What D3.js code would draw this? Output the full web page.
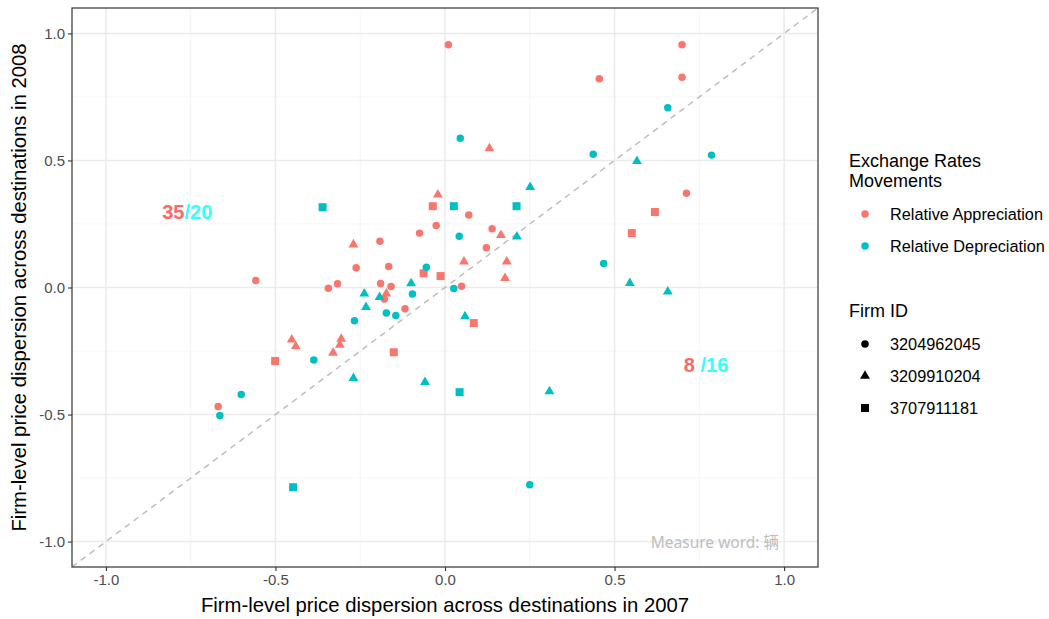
<!DOCTYPE html>
<html>
<head>
<meta charset="utf-8">
<script src="https://cdn.jsdelivr.net/npm/d3@7"></script>
<style>
  body { margin: 0; background: #fff; }
  svg { display: block; }
  text { font-family: "Liberation Sans", Arial, sans-serif; }
</style>
</head>
<body>
<svg id="chart" width="1049" height="619"></svg>
<script>
// ---- Data ----
const xTicks = [-1.0, -0.5, 0.0, 0.5, 1.0];
const yTicks = [-1.0, -0.5, 0.0, 0.5, 1.0];
const minorTicks = [-0.75, -0.25, 0.25, 0.75];
const movementLevels = ["Relative Appreciation", "Relative Depreciation"];
const firmLevels = ["3204962045", "3209910204", "3707911181"];

// Relative Appreciation: [x2007, y2008, firm index]
const appreciation = [
  [-0.270, 0.169, 1], [-0.192, 0.182, 0], [-0.262, 0.078, 0], [-0.166, 0.083, 0],
  [-0.558, 0.028, 0], [-0.344, -0.003, 0], [-0.317, 0.015, 0], [-0.190, 0.016, 0],
  [-0.159, 0.004, 0], [-0.173, -0.024, 1], [-0.179, -0.045, 0], [0.131, 0.547, 1],
  [-0.021, 0.365, 1], [-0.036, 0.320, 2], [0.070, 0.285, 0], [-0.075, 0.214, 0],
  [-0.026, 0.244, 0], [0.139, 0.231, 0], [0.165, 0.206, 1], [0.122, 0.156, 0],
  [0.056, 0.102, 1], [0.182, 0.102, 1], [0.177, 0.037, 1], [-0.063, 0.056, 2],
  [-0.013, 0.045, 2], [0.049, 0.005, 0], [-0.118, -0.084, 0], [-0.452, -0.205, 1],
  [-0.440, -0.232, 1], [-0.306, -0.202, 1], [-0.310, -0.226, 1], [-0.330, -0.257, 1],
  [-0.501, -0.289, 2], [-0.151, -0.255, 2], [-0.669, -0.468, 0], [0.085, -0.140, 2],
  [0.010, 0.955, 0], [0.455, 0.822, 0], [0.699, 0.955, 0], [0.699, 0.827, 0],
  [0.712, 0.371, 0], [0.619, 0.297, 2], [0.551, 0.214, 2]
];
// Relative Depreciation: [x2007, y2008, firm index]
const depreciation = [
  [-0.361, 0.316, 2], [-0.238, -0.024, 1], [-0.193, -0.038, 1], [-0.233, -0.077, 1],
  [0.045, 0.587, 0], [0.251, 0.395, 1], [0.026, 0.320, 2], [0.211, 0.320, 2],
  [0.042, 0.202, 0], [0.212, 0.200, 1], [-0.055, 0.080, 0], [-0.100, 0.016, 1],
  [-0.096, -0.026, 0], [0.026, -0.004, 0], [-0.173, -0.100, 0], [-0.145, -0.110, 0],
  [-0.267, -0.131, 0], [-0.387, -0.285, 0], [-0.270, -0.357, 1], [-0.059, -0.373, 1],
  [-0.601, -0.421, 0], [0.059, -0.114, 1], [0.043, -0.412, 2], [0.308, -0.409, 1],
  [0.657, 0.707, 0], [0.437, 0.524, 0], [0.786, 0.521, 0], [0.566, 0.497, 1],
  [0.468, 0.094, 0], [0.545, 0.017, 1], [0.657, -0.016, 1], [-0.664, -0.504, 0],
  [-0.448, -0.786, 2], [0.250, -0.776, 0]
];
const countLabels = [
  { x: -0.76, y: 0.30, above: "35", below: "/20" },
  { x: 0.77, y: -0.30, above: "8 ", below: "/16" }
];
const noteText = "Measure word: 辆";

// ---- Layout ----
const svg = d3.select("#chart");
const P = { left: 72, top: 8, right: 818, bottom: 567 };
const x = d3.scaleLinear().domain([-1.1, 1.1]).range([P.left, P.right]);
const y = d3.scaleLinear().domain([-1.1, 1.1]).range([P.bottom, P.top]);
const colour = d3.scaleOrdinal().domain(movementLevels).range(["#F8766D", "#00BFC4"]);
const shapeTypes = [d3.symbolCircle, d3.symbolTriangle, d3.symbolSquare];
const shapeSizes = [44, 42, 64];
const sym = i => d3.symbol().type(shapeTypes[i]).size(shapeSizes[i])();

// Panel background
svg.append("rect").attr("x", P.left).attr("y", P.top)
  .attr("width", P.right - P.left).attr("height", P.bottom - P.top).attr("fill", "#fff");

// Grid
const grid = svg.append("g");
grid.selectAll(".vmin").data(minorTicks).join("line")
  .attr("x1", d => x(d)).attr("x2", d => x(d)).attr("y1", P.top).attr("y2", P.bottom)
  .attr("stroke", "#F2F2F2").attr("stroke-width", 0.8);
grid.selectAll(".hmin").data(minorTicks).join("line")
  .attr("y1", d => y(d)).attr("y2", d => y(d)).attr("x1", P.left).attr("x2", P.right)
  .attr("stroke", "#F2F2F2").attr("stroke-width", 0.8);
grid.selectAll(".vmaj").data(xTicks).join("line")
  .attr("x1", d => x(d)).attr("x2", d => x(d)).attr("y1", P.top).attr("y2", P.bottom)
  .attr("stroke", "#EBEBEB").attr("stroke-width", 1.5);
grid.selectAll(".hmaj").data(yTicks).join("line")
  .attr("y1", d => y(d)).attr("y2", d => y(d)).attr("x1", P.left).attr("x2", P.right)
  .attr("stroke", "#EBEBEB").attr("stroke-width", 1.5);

// Clip
svg.append("clipPath").attr("id", "clip").append("rect")
  .attr("x", P.left).attr("y", P.top).attr("width", P.right - P.left).attr("height", P.bottom - P.top);

// Diagonal y = x
svg.append("line").attr("clip-path", "url(#clip)")
  .attr("x1", x(-1.1)).attr("y1", y(-1.1)).attr("x2", x(1.1)).attr("y2", y(1.1))
  .attr("stroke", "#BEBEBE").attr("stroke-width", 1.5).attr("stroke-dasharray", "6,5");

// Points
const pts = svg.append("g").attr("clip-path", "url(#clip)");
const allPts = appreciation.map(d => ({ x: d[0], y: d[1], f: d[2], m: movementLevels[0] }))
  .concat(depreciation.map(d => ({ x: d[0], y: d[1], f: d[2], m: movementLevels[1] })));
pts.selectAll("path").data(allPts).join("path")
  .attr("d", d => sym(d.f))
  .attr("transform", d => `translate(${x(d.x)},${y(d.y)})`)
  .attr("fill", d => colour(d.m));

// Count annotations
const ann = svg.append("g");
countLabels.forEach(c => {
  const t = ann.append("text").attr("x", x(c.x)).attr("y", y(c.y) + 8)
    .attr("text-anchor", "middle").attr("font-size", 20).attr("font-weight", "bold");
  t.append("tspan").attr("fill", "#FF6666").text(c.above);
  t.append("tspan").attr("fill", "#33FFFF").text(c.below);
});

// Measure word note
svg.append("text").attr("x", x(0.985)).attr("y", y(-1.0) + 6)
  .attr("text-anchor", "end").attr("font-size", 15.5).attr("fill", "#BDBDBD")
  .style("font-family", '"Noto Sans", "Noto Sans CJK SC", sans-serif')
  .text(noteText);

// Panel border
svg.append("rect").attr("x", P.left).attr("y", P.top)
  .attr("width", P.right - P.left).attr("height", P.bottom - P.top)
  .attr("fill", "none").attr("stroke", "#333333").attr("stroke-width", 1.2);

// Axes
const fmt = d3.format(".1f");
const xAxis = svg.append("g").attr("transform", `translate(0,${P.bottom})`)
  .call(d3.axisBottom(x).tickValues(xTicks).tickFormat(d => fmt(d).replace("−", "-")).tickSize(4).tickPadding(3));
const yAxis = svg.append("g").attr("transform", `translate(${P.left},0)`)
  .call(d3.axisLeft(y).tickValues(yTicks).tickFormat(d => fmt(d).replace("−", "-")).tickSize(4).tickPadding(3));
[xAxis, yAxis].forEach(a => {
  a.select(".domain").remove();
  a.selectAll(".tick line").attr("stroke", "#333333").attr("stroke-width", 1.1);
  a.selectAll(".tick text").attr("fill", "#4D4D4D").attr("font-size", 15)
    .style("font-family", '"Liberation Sans", Arial, sans-serif');
});

// Axis titles
svg.append("text").attr("x", (P.left + P.right) / 2).attr("y", 612)
  .attr("text-anchor", "middle").attr("font-size", 20.3).attr("fill", "#000")
  .text("Firm-level price dispersion across destinations in 2007");
svg.append("text").attr("transform", `translate(26,${(P.top + P.bottom) / 2}) rotate(-90)`)
  .attr("text-anchor", "middle").attr("font-size", 20.3).attr("fill", "#000")
  .text("Firm-level price dispersion across destinations in 2008");

// Legends
const lg = svg.append("g");
lg.append("text").attr("x", 849).attr("y", 167).attr("font-size", 18).text("Exchange Rates");
lg.append("text").attr("x", 849).attr("y", 187).attr("font-size", 18).text("Movements");
movementLevels.forEach((m, i) => {
  const cy = 214 + i * 32;
  lg.append("path").attr("d", sym(0)).attr("transform", `translate(865,${cy})`).attr("fill", colour(m));
  lg.append("text").attr("x", 890).attr("y", cy + 6).attr("font-size", 16.3).text(m);
});
lg.append("text").attr("x", 849).attr("y", 317).attr("font-size", 18).text("Firm ID");
firmLevels.forEach((f, i) => {
  const cy = 344 + i * 32;
  lg.append("path").attr("d", sym(i)).attr("transform", `translate(865,${cy})`).attr("fill", "#000");
  lg.append("text").attr("x", 890).attr("y", cy + 6).attr("font-size", 16.3).text(f);
});
</script>
</body>
</html>
